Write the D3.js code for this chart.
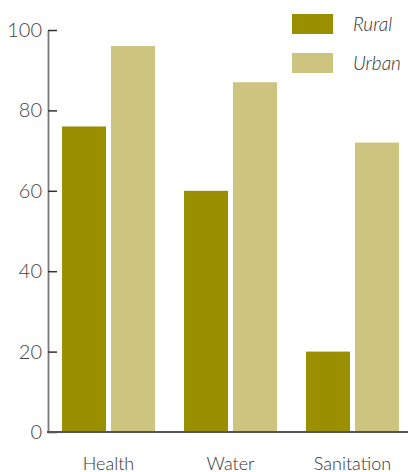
<!DOCTYPE html>
<html>
<head>
<meta charset="utf-8">
<script src="https://cdn.jsdelivr.net/npm/d3@7/dist/d3.min.js"></script>
<style>
  html, body { margin: 0; padding: 0; background: #fff; }
  svg { display: block; font-family: Lato, "Open Sans", sans-serif; font-weight: 300; }
</style>
</head>
<body>
<div id="chart"></div>
<script>
// Chart data
const categories = ["Health", "Water", "Sanitation"]
const seriesNames = ["Rural", "Urban"]
const rural = [76, 60, 20]
const urban = [96, 87, 72]
const yTicks = [0, 20, 40, 60, 80, 100]

const COLORS = {
  Rural: "#998f00",
  Urban: "#cdc47f"
}

const width = 408
const height = 472

const svg = d3.select("#chart").append("svg")
  .attr("width", width)
  .attr("height", height)

// Scales
const y = d3.scaleLinear().domain([0, 100]).range([432, 30])

const x = d3.scaleBand()
  .domain(categories)
  .range([48, 413])
  .paddingInner(0.238)
  .paddingOuter(0.115)

const xSub = d3.scaleBand()
  .domain(seriesNames)
  .range([0, x.bandwidth()])
  .paddingInner(0.102)

const rows = categories.map((c, i) => ({
  category: c,
  values: [
    { key: "Rural", value: rural[i] },
    { key: "Urban", value: urban[i] }
  ]
}))

// Bars
svg.append("g")
  .selectAll("g")
  .data(rows)
  .enter().append("g")
  .attr("transform", d => `translate(${x(d.category)},0)`)
  .selectAll("rect")
  .data(d => d.values)
  .enter().append("rect")
  .attr("x", d => xSub(d.key))
  .attr("y", d => y(d.value))
  .attr("width", xSub.bandwidth())
  .attr("height", d => y(0) - y(d.value))
  .attr("fill", d => COLORS[d.key])

// Y axis, ticks pointing into the plot
const yAxis = svg.append("g")
  .attr("transform", "translate(48,0)")
  .call(d3.axisLeft(y).tickValues(yTicks).tickSize(-9).tickSizeOuter(0).tickPadding(6))
yAxis.select(".domain").attr("stroke", "#7a7a7a").attr("stroke-width", 1.8)
yAxis.selectAll(".tick line").attr("stroke", "#333").attr("stroke-width", 1.5)
yAxis.selectAll(".tick text")
  .attr("font-size", 20)
  .attr("font-family", "Lato, 'Open Sans', sans-serif")
  .attr("font-weight", 300)
  .attr("fill", "#444")

// X axis labels
const xAxis = svg.append("g")
  .attr("transform", "translate(0,432)")
  .call(d3.axisBottom(x).tickSize(0).tickPadding(25))
xAxis.select(".domain").remove()
xAxis.selectAll(".tick text")
  .attr("font-size", 18)
  .attr("font-family", "Lato, 'Open Sans', sans-serif")
  .attr("font-weight", 300)
  .attr("fill", "#333")

// Baseline
svg.append("line")
  .attr("x1", 47)
  .attr("x2", 408)
  .attr("y1", y(0))
  .attr("y2", y(0))
  .attr("stroke", "#555")
  .attr("stroke-width", 1.8)

// Legend
const legend = svg.append("g")
  .selectAll("g")
  .data(seriesNames)
  .enter().append("g")
  .attr("transform", (d, i) => `translate(292,${14 + i * 39})`)

legend.append("rect")
  .attr("width", 41)
  .attr("height", 20)
  .attr("fill", d => COLORS[d])

legend.append("text")
  .attr("x", 61)
  .attr("y", 10)
  .attr("dy", "0.35em")
  .attr("font-size", 19)
  .attr("font-style", "italic")
  .attr("fill", "#333")
  .text(d => d)
</script>
</body>
</html>
